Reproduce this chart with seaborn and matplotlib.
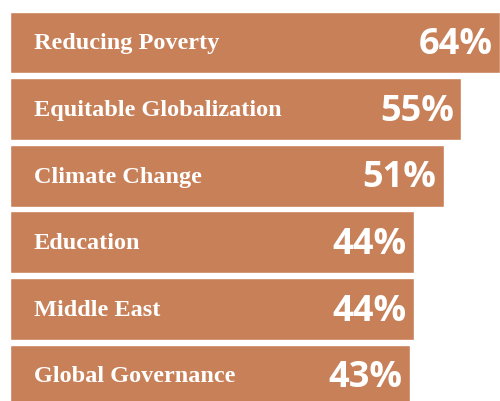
import matplotlib
matplotlib.use("Agg")
import matplotlib.pyplot as plt
import seaborn as sns
import pandas as pd

topics = ["Reducing Poverty", "Equitable Globalization", "Climate Change",
          "Education", "Middle East", "Global Governance"]
shares = [64, 55, 51, 44, 44, 43]

df = pd.DataFrame({"topic": topics, "share": shares})

bar_color = "#C88058"
base = -50  # bars in the original don't start at zero

sns.set_style("white")
fig = plt.figure(figsize=(5.0, 4.01), dpi=100)
ax = fig.add_axes([0.02, 0, 0.98, 1])

sns.barplot(data=df, x="share", y="topic", orient="h", color=bar_color,
            saturation=1, width=0.93, ax=ax)

# stretch each bar back to the common baseline
for p in ax.patches:
    p.set_width(p.get_width() - base)
    p.set_x(base)

ax.set_xlim(base, max(shares))
ax.set_ylim(5.383, -0.638)

for i, (name, v) in enumerate(zip(topics, shares)):
    ax.annotate(name, xy=(base, i), xytext=(17, -1), textcoords="offset points",
                color="white", va="center", ha="left",
                fontsize=17.5, fontweight="bold", family="Liberation Serif")
    ax.annotate(f"{v}%", xy=(v, i), xytext=(-5.5, -2),
                textcoords="offset points", color="white", va="center",
                ha="right", fontsize=26, fontweight="bold", family="Open Sans")

ax.set_axis_off()
fig.savefig("out.png", dpi=100)
